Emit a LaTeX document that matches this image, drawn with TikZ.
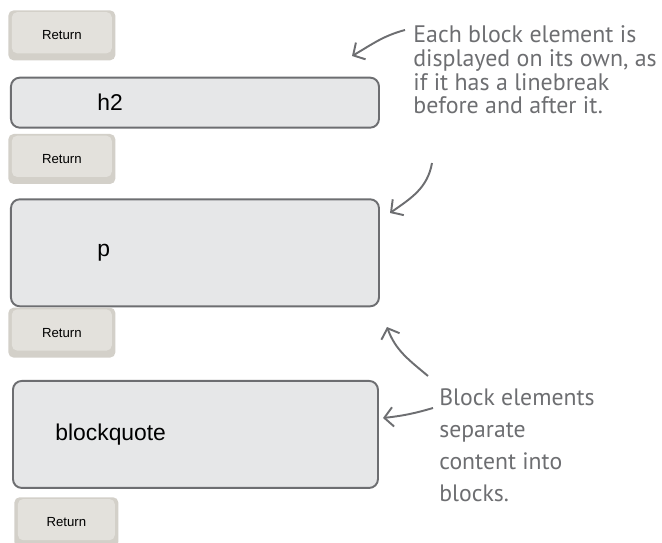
\documentclass[tikz,border=0pt]{standalone}
\usepackage{fontspec}
\setmainfont{Liberation Sans}
\newfontfamily\handfont{PT Sans}
\usepackage{xcolor}
\usepackage{tikz}
\usetikzlibrary{arrows.meta, positioning}

\definecolor{inkgray}{HTML}{6D6E71}
\definecolor{boxfill}{HTML}{E6E7E8}
\definecolor{keyside}{HTML}{D3D0C9}
\definecolor{keytop}{HTML}{E3E1DC}

\begin{document}
\begin{tikzpicture}[
  key/.style={rounded corners=3pt, fill=keyside, minimum width=2.14cm, minimum height=1cm,
              font=\fontsize{7.5}{9}\selectfont, inner sep=0pt,
              path picture={\fill[keytop, rounded corners=3pt]
                ([shift={(2pt,-1pt)}]path picture bounding box.north west) rectangle
                ([shift={(-2pt,4pt)}]path picture bounding box.south east);}},
  blk/.style={draw=inkgray, line width=1.1pt, rounded corners=5pt, fill=boxfill,
              minimum width=7.36cm, text width=5.6cm, align=left,
              font=\fontsize{13}{15}\selectfont, inner xsep=0.9cm},
  note/.style={align=left, text=inkgray, inner sep=0pt},
  arr/.style={-{Straight Barb[length=5pt, width=11pt]}, line width=1.1pt, inkgray}
]
  \useasboundingbox (0,0) rectangle (13.24,-10.86);

  % left column: keys and block boxes
  \node[key, anchor=north west] (key1) at (0.16,-0.20) {Return};
  \node[blk, minimum height=1cm, text width=3.9cm, inner xsep=1.7cm,
        below=0.32cm of key1.south west, anchor=north west, xshift=0.04cm] (h2) {h2};
  \node[key, below=0.10cm of h2.south west, anchor=north west, xshift=-0.04cm] (key2) {Return};
  \node[blk, minimum height=2.14cm, text width=3.9cm, inner xsep=1.7cm,
        below=0.28cm of key2.south west, anchor=north west, xshift=0.04cm] (p) {p};
  \node[key, below=0cm of p.south west, anchor=north west, xshift=-0.04cm] (key3) {Return};
  \node[blk, minimum height=2.14cm, minimum width=7.3cm, inner xsep=0.8cm,
        below=0.44cm of key3.south west, anchor=north west, xshift=0.08cm] (bq) {blockquote};
  \node[key, minimum width=2.08cm, below=0.16cm of bq.south west, anchor=north west, xshift=0.04cm] (key4) {Return};

  % notes
  \node[note, anchor=north west, font=\handfont\fontsize{13.6}{13.6}\selectfont] (note1) at (8.26,-0.50)
    {Each block element is\\displayed on its own, as\\if it has a linebreak\\before and after it.};
  \node[note, anchor=north west, font=\handfont\fontsize{13.5}{18.2}\selectfont] (note2) at (8.78,-7.76)
    {Block elements\\separate\\content into\\blocks.};

  \coordinate (tipA) at (7.04,-1.12);
  \coordinate (tipB) at (7.80,-4.26);
  \coordinate (tipC) at (7.74,-6.54);
  \coordinate (tipD) at (7.66,-8.36);

  \draw[arr] ([shift={(-0.16,-0.10)}]note1.north west) to[out=195, in=30] (tipA);
  \draw[arr] ([shift={(0.38,-2.76)}]note1.north west) to[out=-100, in=35] (tipB);
  \draw[arr] ([shift={(-0.22,0.24)}]note2.north west) to[out=140, in=-70] (tipC);
  \draw[arr] ([shift={(-0.12,-0.40)}]note2.north west) to[bend left=5] (tipD);
\end{tikzpicture}
\end{document}
